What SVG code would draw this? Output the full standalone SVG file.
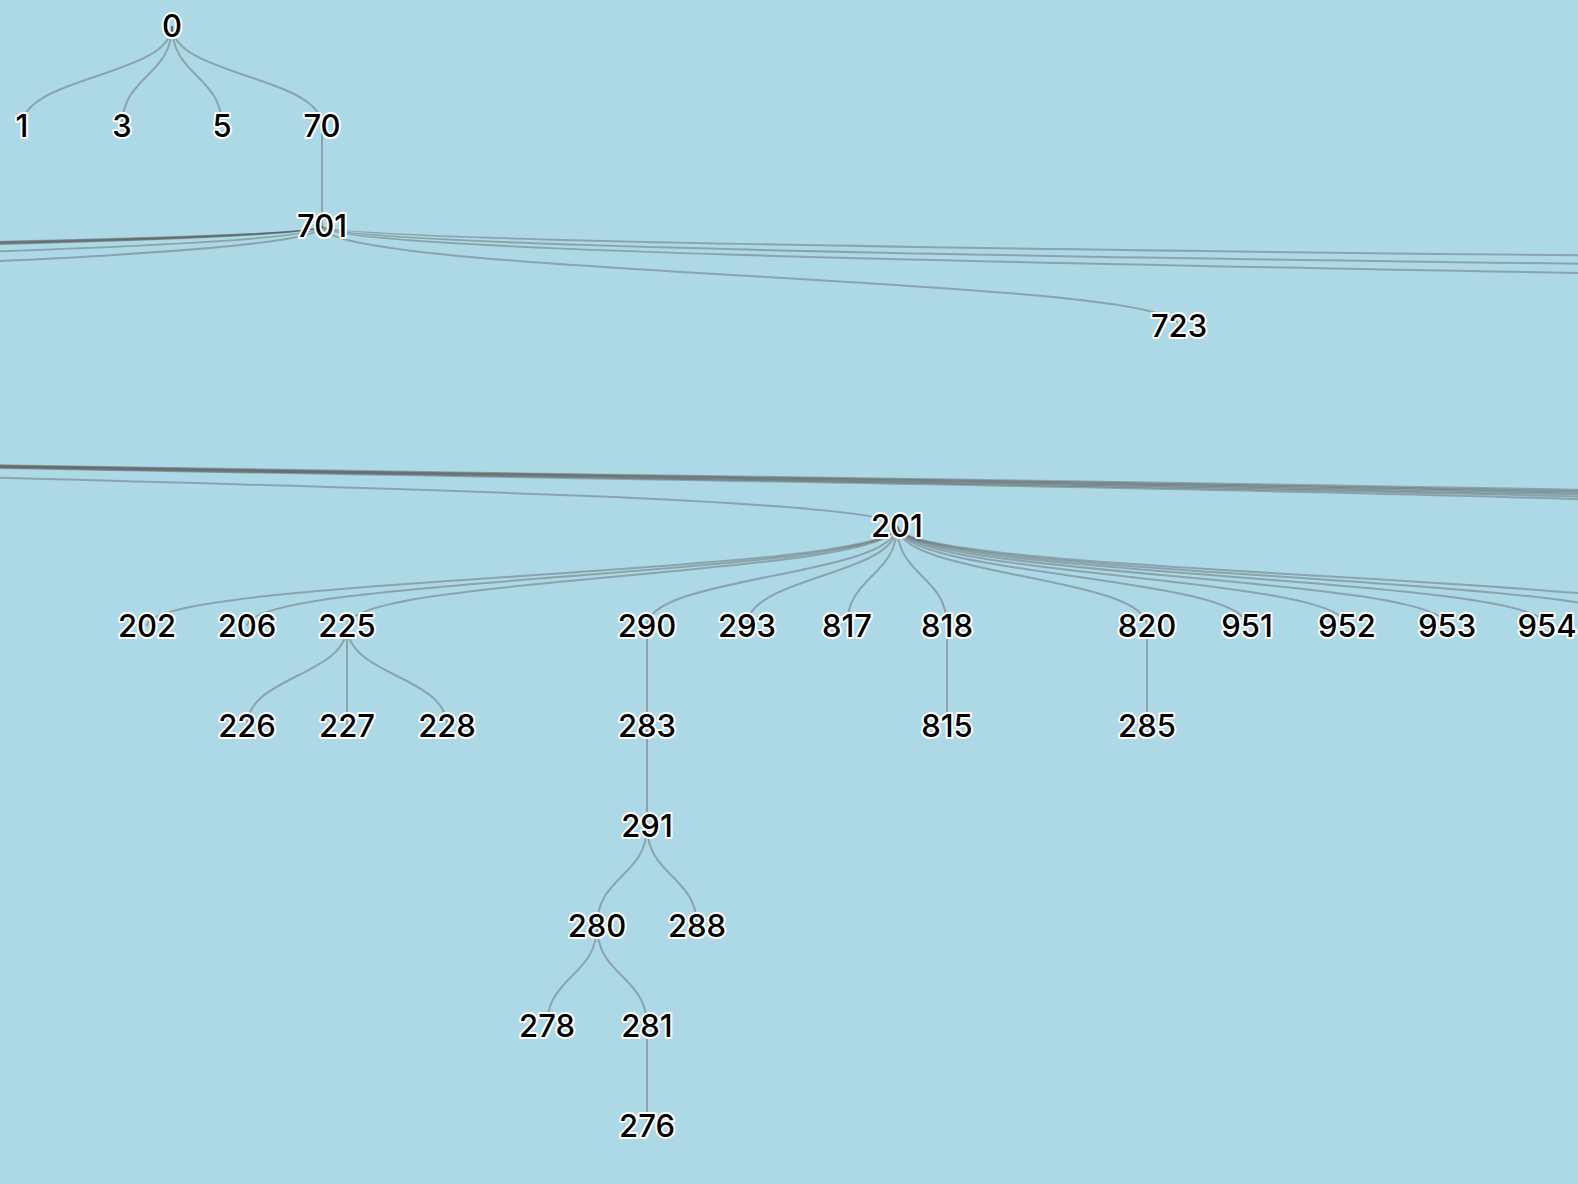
<svg xmlns="http://www.w3.org/2000/svg" width="1578" height="1184" viewBox="0 0 1578 1184">
<style>
.bg{fill:#ADD8E6}
.links path{fill:none;stroke:#555;stroke-opacity:0.4;stroke-width:2}
.node text{font-family:Inter,"Liberation Sans",sans-serif;font-size:31px;font-weight:500;text-anchor:middle;fill:#000;stroke:#fff;stroke-width:4;stroke-linejoin:round;paint-order:stroke}
</style>
<rect class="bg" x="0" y="0" width="1578" height="1184"/>
<g class="links">
<path d="M172,26C172,76 22,76 22,126"/>
<path d="M172,26C172,76 122,76 122,126"/>
<path d="M172,26C172,76 222,76 222,126"/>
<path d="M172,26C172,76 322,76 322,126"/>
<path d="M322,126C322,176 322,176 322,226"/>
<path d="M322,226C322,276 -8200,276 -8200,326"/>
<path d="M322,226C322,276 -7600,276 -7600,326"/>
<path d="M322,226C322,276 -7000,276 -7000,326"/>
<path d="M322,226C322,276 -6400,276 -6400,326"/>
<path d="M322,226C322,276 -5900,276 -5900,326"/>
<path d="M322,226C322,276 -2635,276 -2635,326"/>
<path d="M322,226C322,276 -1078,276 -1078,326"/>
<path d="M322,226C322,276 1179,276 1179,326"/>
<path d="M322,226C322,276 3170,276 3170,326"/>
<path d="M322,226C322,276 4900,276 4900,326"/>
<path d="M322,226C322,276 8600,276 8600,326"/>
<path d="M-1040,426C-1040,476 897,476 897,526"/>
<path d="M-1040,426C-1040,476 1947,476 1947,526"/>
<path d="M-1040,426C-1040,476 2047,476 2047,526"/>
<path d="M-1040,426C-1040,476 2147,476 2147,526"/>
<path d="M-1040,426C-1040,476 2247,476 2247,526"/>
<path d="M-1040,426C-1040,476 2347,476 2347,526"/>
<path d="M-1040,426C-1040,476 2447,476 2447,526"/>
<path d="M897,526C897,576 147,576 147,626"/>
<path d="M897,526C897,576 247,576 247,626"/>
<path d="M897,526C897,576 347,576 347,626"/>
<path d="M897,526C897,576 647,576 647,626"/>
<path d="M897,526C897,576 747,576 747,626"/>
<path d="M897,526C897,576 847,576 847,626"/>
<path d="M897,526C897,576 947,576 947,626"/>
<path d="M897,526C897,576 1147,576 1147,626"/>
<path d="M897,526C897,576 1247,576 1247,626"/>
<path d="M897,526C897,576 1347,576 1347,626"/>
<path d="M897,526C897,576 1447,576 1447,626"/>
<path d="M897,526C897,576 1547,576 1547,626"/>
<path d="M897,526C897,576 1647,576 1647,626"/>
<path d="M897,526C897,576 1747,576 1747,626"/>
<path d="M347,626C347,676 247,676 247,726"/>
<path d="M347,626C347,676 347,676 347,726"/>
<path d="M347,626C347,676 447,676 447,726"/>
<path d="M647,626C647,676 647,676 647,726"/>
<path d="M647,726C647,776 647,776 647,826"/>
<path d="M647,826C647,876 597,876 597,926"/>
<path d="M647,826C647,876 697,876 697,926"/>
<path d="M597,926C597,976 547,976 547,1026"/>
<path d="M597,926C597,976 647,976 647,1026"/>
<path d="M647,1026C647,1076 647,1076 647,1126"/>
<path d="M947,626C947,676 947,676 947,726"/>
<path d="M1147,626C1147,676 1147,676 1147,726"/>
</g>
<g id="n0" class="node"><text x="172" y="26" dy="0.35em">0</text></g>
<g id="n1" class="node"><text x="22" y="126" dy="0.35em">1</text></g>
<g id="n3" class="node"><text x="122" y="126" dy="0.35em">3</text></g>
<g id="n5" class="node"><text x="222" y="126" dy="0.35em">5</text></g>
<g id="n70" class="node"><text x="322" y="126" dy="0.35em">70</text></g>
<g id="n701" class="node"><text x="322" y="226" dy="0.35em">701</text></g>
<g id="n723" class="node"><text x="1179" y="326" dy="0.35em">723</text></g>
<g id="n201" class="node"><text x="897" y="526" dy="0.35em">201</text></g>
<g id="n202" class="node"><text x="147" y="626" dy="0.35em">202</text></g>
<g id="n206" class="node"><text x="247" y="626" dy="0.35em">206</text></g>
<g id="n225" class="node"><text x="347" y="626" dy="0.35em">225</text></g>
<g id="n290" class="node"><text x="647" y="626" dy="0.35em">290</text></g>
<g id="n293" class="node"><text x="747" y="626" dy="0.35em">293</text></g>
<g id="n817" class="node"><text x="847" y="626" dy="0.35em">817</text></g>
<g id="n818" class="node"><text x="947" y="626" dy="0.35em">818</text></g>
<g id="n820" class="node"><text x="1147" y="626" dy="0.35em">820</text></g>
<g id="n951" class="node"><text x="1247" y="626" dy="0.35em">951</text></g>
<g id="n952" class="node"><text x="1347" y="626" dy="0.35em">952</text></g>
<g id="n953" class="node"><text x="1447" y="626" dy="0.35em">953</text></g>
<g id="n954" class="node"><text x="1547" y="626" dy="0.35em">954</text></g>
<g id="n226" class="node"><text x="247" y="726" dy="0.35em">226</text></g>
<g id="n227" class="node"><text x="347" y="726" dy="0.35em">227</text></g>
<g id="n228" class="node"><text x="447" y="726" dy="0.35em">228</text></g>
<g id="n283" class="node"><text x="647" y="726" dy="0.35em">283</text></g>
<g id="n815" class="node"><text x="947" y="726" dy="0.35em">815</text></g>
<g id="n285" class="node"><text x="1147" y="726" dy="0.35em">285</text></g>
<g id="n291" class="node"><text x="647" y="826" dy="0.35em">291</text></g>
<g id="n280" class="node"><text x="597" y="926" dy="0.35em">280</text></g>
<g id="n288" class="node"><text x="697" y="926" dy="0.35em">288</text></g>
<g id="n278" class="node"><text x="547" y="1026" dy="0.35em">278</text></g>
<g id="n281" class="node"><text x="647" y="1026" dy="0.35em">281</text></g>
<g id="n276" class="node"><text x="647" y="1126" dy="0.35em">276</text></g>
</svg>
